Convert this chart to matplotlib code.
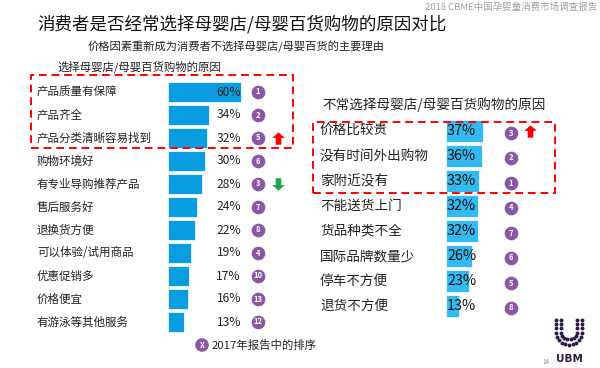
import matplotlib
matplotlib.use('Agg')
import matplotlib.pyplot as plt
import numpy as np
from matplotlib.path import Path
from matplotlib.patches import Rectangle
from matplotlib.transforms import blended_transform_factory

plt.rcParams['font.family'] = ['Noto Sans CJK SC', 'DejaVu Sans']

# data
left_labels = ['产品质量有保障', '产品齐全', '产品分类清晰容易找到', '购物环境好', '有专业导购推荐产品',
               '售后服务好', '退换货方便', '可以体验/试用商品', '优惠促销多', '价格便宜', '有游泳等其他服务']
left_values = [60, 34, 32, 30, 28, 24, 22, 19, 17, 16, 13]
left_rank_2017 = [1, 2, 5, 6, 3, 7, 8, 4, 10, 13, 12]
left_trend = {2: 'up', 4: 'down'}

right_labels = ['价格比较贵', '没有时间外出购物', '家附近没有', '不能送货上门', '货品种类不全',
                '国际品牌数量少', '停车不方便', '退货不方便']
right_values = [37, 36, 33, 32, 32, 26, 23, 13]
right_rank_2017 = [3, 2, 1, 4, 7, 6, 5, 8]
right_trend = {0: 'up'}

W, H = 600, 368
fig = plt.figure(figsize=(6, 3.68), dpi=100)

def fx(x):
    return x / W

def fy(y):
    return 1 - y / H

purple = '#8b56a6'
up_arrow = Path([(0, 1), (1, 0.1), (0.45, 0.1), (0.45, -1), (-0.45, -1), (-0.45, 0.1), (-1, 0.1), (0, 1)])
down_arrow = Path([(0, -1), (1, -0.1), (0.45, -0.1), (0.45, 1), (-0.45, 1), (-0.45, -0.1), (-1, -0.1), (0, -1)])

# titles
fig.text(fx(597), fy(7), '2018 CBME中国孕婴童消费市场调查报告', ha='right', va='center',
         fontsize=6.8, color='#a0a0a0')
fig.text(fx(37), fy(24), '消费者是否经常选择母婴店/母婴百货购物的原因对比', ha='left', va='center',
         fontsize=12.6, color='#111111')
fig.text(fx(88), fy(47), '价格因素重新成为消费者不选择母婴店/母婴百货的主要理由', ha='left', va='center',
         fontsize=8.1, color='#222222')
fig.text(fx(57), fy(67), '选择母婴店/母婴百货购物的原因', ha='left', va='center',
         fontsize=8.2, color='#222222')
fig.text(fx(322), fy(105), '不常选择母婴店/母婴百货购物的原因', ha='left', va='center',
         fontsize=9.8, color='#222222')

# left chart
axl = fig.add_axes([fx(168), fy(333.5), 140 / W, 253 / H])
nl = len(left_values)
yl = np.arange(nl)
axl.barh(yl, left_values, height=0.9, color='#0a9de2', edgecolor='white', linewidth=0.5)
axl.set_xlim(0, 140 / 1.22)
axl.set_ylim(nl - 0.5, -0.5)
axl.axis('off')
tl = blended_transform_factory(fig.transFigure, axl.transData)
for i in range(nl):
    axl.text(fx(37), i, left_labels[i], transform=tl, ha='left', va='center', fontsize=8.3, color='#222222')
    axl.text(fx(241), i, f'{left_values[i]}%', transform=tl, ha='right', va='center', fontsize=8.7, color='#222222')
    axl.text(fx(258), i, str(left_rank_2017[i]), transform=tl, ha='center', va='center',
             fontsize=5.5, color='white', fontweight='bold', zorder=5)
axl.scatter([fx(258)] * nl, yl, transform=tl, s=78, color=purple, clip_on=False, zorder=4)
for i, d in left_trend.items():
    axl.scatter([fx(278)], [i], transform=tl, marker=up_arrow if d == 'up' else down_arrow,
                s=80, color='#ff0000' if d == 'up' else '#1aa84a', clip_on=False, linewidths=0)

# right chart
axr = fig.add_axes([fx(446), fy(318.5), 100 / W, 200 / H])
nr = len(right_values)
yr = np.arange(nr)
axr.barh(yr, right_values, height=0.88, color='#33baf0', edgecolor='white', linewidth=0.5)
axr.set_xlim(0, 100)
axr.set_ylim(nr - 0.5, -0.5)
axr.axis('off')
tr = blended_transform_factory(fig.transFigure, axr.transData)
for i in range(nr):
    axr.text(fx(320), i, right_labels[i], transform=tr, ha='left', va='center', fontsize=9.8, color='#222222')
    axr.text(fx(447), i, f'{right_values[i]}%', transform=tr, ha='left', va='center', fontsize=10.4, color='#111111')
    axr.text(fx(511), i + 0.08, str(right_rank_2017[i]), transform=tr, ha='center', va='center',
             fontsize=5.5, color='white', fontweight='bold', zorder=5)
axr.scatter([fx(511)] * nr, yr + 0.08, transform=tr, s=78, color=purple, clip_on=False, zorder=4)
for i, d in right_trend.items():
    axr.scatter([fx(530)], [i], transform=tr, marker=up_arrow, s=80, color='#ff0000',
                clip_on=False, linewidths=0)

# red dashed boxes
for x0, y0, x1, y1 in [(31, 75, 293, 148), (313, 122, 555, 193)]:
    fig.patches.append(Rectangle((fx(x0), fy(y1)), fx(x1 - x0), (y1 - y0) / H, transform=fig.transFigure,
                                 fill=False, edgecolor='#ff0000', linestyle=(0, (4, 2.5)), linewidth=1.4))

# legend
fig.text(fx(202), fy(345), 'X', ha='center', va='center', fontsize=5.5, color='white', fontweight='bold',
         bbox=dict(boxstyle='circle,pad=0.3', fc=purple, ec='none'))
fig.text(fx(212), fy(345), '2017年报告中的排序', ha='left', va='center', fontsize=8.2, color='#222222')

# UBM logo
axlogo = fig.add_axes([fx(552), fy(350), 34 / W, 32 / H])
axlogo.set_xlim(-1.3, 1.3)
axlogo.set_ylim(-1.2, 1.2)
axlogo.axis('off')
for r, n in [(1.0, 11), (0.62, 8)]:
    t = np.linspace(np.pi * 1.05, np.pi * 1.95, n)
    axlogo.scatter(r * np.cos(t), 0.2 + r * np.sin(t), s=8, color='#2b1b46', linewidths=0)
    axlogo.scatter([-r] * 3 + [r] * 3, [0.45, 0.75, 1.05] * 2, s=8, color='#2b1b46', linewidths=0)
fig.text(fx(569), fy(359), 'UBM', ha='center', va='center', fontsize=7.5, color='#2b1b46', fontweight='bold',
         family='DejaVu Sans')
fig.text(fx(546), fy(362), '14', ha='center', va='center', fontsize=4.5, color='#888888')

fig.savefig('out.png', dpi=100)
